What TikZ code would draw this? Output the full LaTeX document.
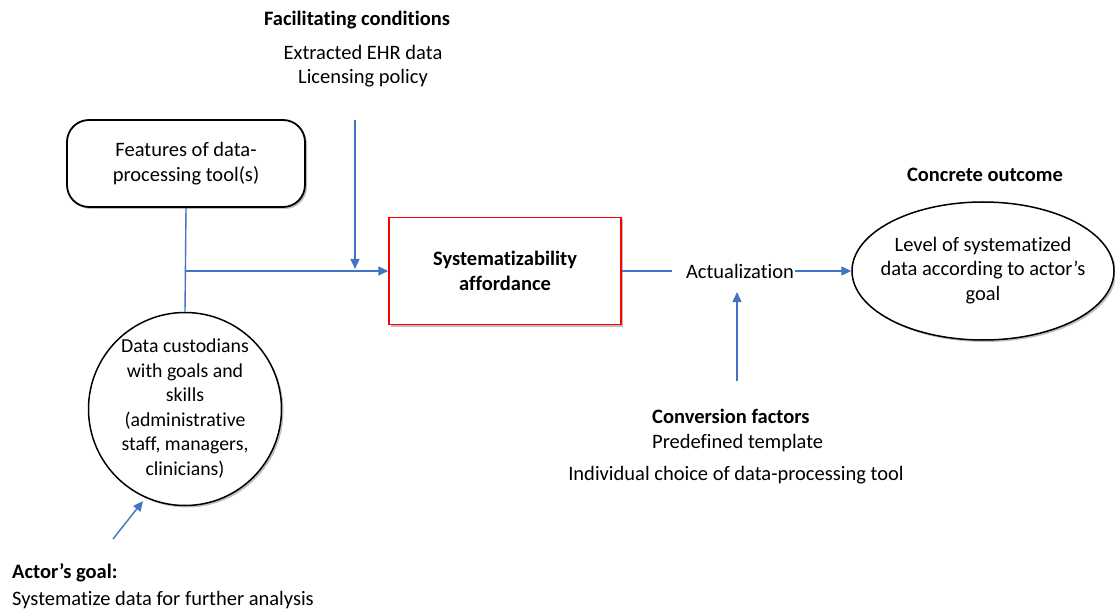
\documentclass[tikz,border=0pt]{standalone}
\usepackage{fontspec}
\setmainfont[Ligatures={NoCommon}]{Carlito}
\usetikzlibrary{arrows.meta,shapes.geometric,shadows}
\definecolor{arrowblue}{HTML}{4472C4}
\definecolor{boxred}{HTML}{FF0000}
\newcommand{\zwtext}[1]{\makebox[0pt]{\begin{tabular}{@{}c@{}}#1\end{tabular}}}
\tikzset{
  txt/.style={font=\fontsize{20.5}{24.5}\selectfont, align=center, inner sep=0pt},
  stxt/.style={font=\fontsize{19.8}{24.5}\selectfont, align=center, inner sep=0pt},
  btxt/.style={font=\fontsize{20.5}{24.5}\selectfont\bfseries, align=center, inner sep=0pt},
  conn/.style={draw=arrowblue, line width=1.4pt},
  arr/.style={conn, -{Triangle[width=9pt,length=10pt]}},
  shad/.style={drop shadow={shadow xshift=2pt, shadow yshift=-2pt, opacity=0.25, fill=black}},
}
\begin{document}
\begin{tikzpicture}[x=1pt,y=-1pt]
\useasboundingbox (0,0) rectangle (1115,609);
% nodes
\node[txt, draw=black, line width=1.8pt, rounded corners=22pt, fill=white, shad,
      minimum width=238, minimum height=87] (feat) at (186,163.5)
      {Features of data-\\processing tool(s)};
\node[stxt, draw=black, line width=1.5pt, circle, fill=white, shad, minimum size=193] (cust) at (185,409)
      {\zwtext{Data custodians\\with goals and\\skills\\(administrative\\staff, managers,\\clinicians)}};
\node[btxt, draw=boxred, line width=1.5pt, fill=white, shad, minimum width=232, minimum height=107] (aff) at (505,271)
      {Systematizability\\affordance};
\node[txt, inner xsep=1pt, minimum height=42] (act) at (740,271) {Actualization};
\node[txt, draw=black, line width=1.5pt, ellipse, fill=white, shad, minimum width=262, minimum height=138] (out) at (983,271)
      {\zwtext{Level of systematized\\data according to actor’s\\goal}};
% labels
\node[btxt] (fch) at (357,20) {Facilitating conditions};
\node[txt] (fc1) at (363,52) {Extracted EHR data};
\node[txt] (fc2) at (363,78) {Licensing policy};
\node[btxt] (coh) at (985,175) {Concrete outcome};
\node[btxt, anchor=west] (cvh) at (652,416) {Conversion factors};
\node[txt, anchor=west] (cv1) at (652,443) {Predefined template};
\node[txt] (cv2) at (736,475) {Individual choice of data-processing tool};
\node[btxt, anchor=west] (agh) at (12,573) {Actor’s goal:};
\node[txt, anchor=west] (ag1) at (12,600) {Systematize data for further analysis};
% coordinates
\coordinate (j) at (186,271);
\coordinate (fcTop) at (355,120);
\coordinate (fcBot) at (355,269);
\coordinate (cvBot) at (737,381);
\coordinate (cvTop) at (737,292);
\coordinate (agA) at (113,539);
\coordinate (agB) at (143,501);
% connectors
\draw[conn] (feat.south) -- (cust.north);
\draw[arr] (j) -- (aff.west);
\draw[arr] (fcTop) -- (fcBot);
\draw[conn, shorten >=13pt] (aff.east) -- (act.west);
\draw[arr] (act.east) -- (out.west);
\draw[arr] (cvBot) -- (cvTop);
\draw[arr] (agA) -- (agB);
\end{tikzpicture}
\end{document}
